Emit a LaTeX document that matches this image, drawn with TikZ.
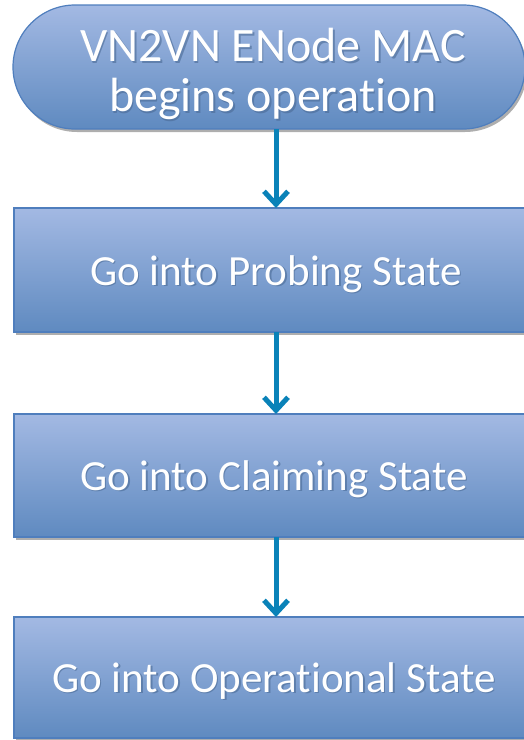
\documentclass[tikz,border=0pt]{standalone}
\usepackage{fontspec}
\setmainfont{Carlito}[Ligatures={NoCommon}]
\usetikzlibrary{arrows.meta,shadows}
\definecolor{boxtop}{HTML}{A3B9E3}
\definecolor{boxbot}{HTML}{5F8AC0}
\definecolor{boxedge}{HTML}{4F7EBD}
\definecolor{arrowc}{HTML}{0A82B8}
\definecolor{txtshadow}{HTML}{4A6A95}
\tikzset{
  every node/.style={inner sep=0pt,outer sep=0pt},
  flowbox/.style={draw=boxedge,line width=1.2pt,top color=boxtop,bottom color=boxbot,
    drop shadow={shadow xshift=2pt,shadow yshift=-3pt,fill=black!45,opacity=0.7}},
  startbox/.style={flowbox,rounded corners=62pt},
  boxtext/.style={text=white,font=\fontsize{43}{50}\selectfont,align=center},
  starttext/.style={text=white,font=\fontsize{48}{50}\selectfont,align=center},
  shadowtext/.style={text=txtshadow,opacity=0.6},
  flowarrow/.style={draw=arrowc,line width=5pt,-{Straight Barb[length=13pt,width=24pt,line width=5pt]}}
}
\begin{document}
\begin{tikzpicture}[x=1pt,y=-1pt]
\useasboundingbox (0,0) rectangle (524,740);
\clip (0,0) rectangle (524,740);
\node[startbox,minimum width=512pt,minimum height=124pt,anchor=north west] (start) at (13,5) {};
\node[flowbox,minimum width=520pt,minimum height=124pt,anchor=north west] (probe) at (14,208) {};
\node[flowbox,minimum width=520pt,minimum height=123pt,anchor=north west] (claim) at (14,414) {};
\node[flowbox,minimum width=520pt,minimum height=121pt,anchor=north west] (oper) at (14,617) {};
\node[starttext,shadowtext] (s0) at (274.5,75.5) {VN2VN ENode MAC\\begins operation};
\node[starttext] (t0) at (273,74) {VN2VN ENode MAC\\begins operation};
\node[boxtext,shadowtext] (s1) at (277.5,275.5) {Go into Probing State};
\node[boxtext] (t1) at (276,274) {Go into Probing State};
\node[boxtext,shadowtext] (s2) at (275.5,480.5) {Go into Claiming State};
\node[boxtext] (t2) at (274,479) {Go into Claiming State};
\node[boxtext,shadowtext] (s3) at (275.5,682.5) {Go into Operational State};
\node[boxtext] (t3) at (274,681) {Go into Operational State};
\draw[flowarrow] (start.south -| 276,0) -- (probe.north -| 276,0);
\draw[flowarrow] (probe.south -| 276,0) -- (claim.north -| 276,0);
\draw[flowarrow] (claim.south -| 276,0) -- (oper.north -| 276,0);
\end{tikzpicture}
\end{document}
